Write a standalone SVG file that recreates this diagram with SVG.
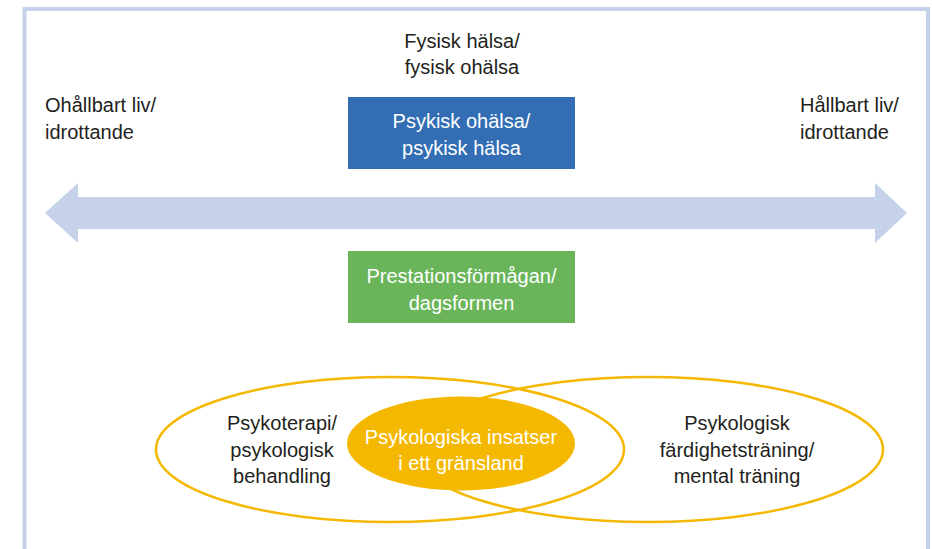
<svg xmlns="http://www.w3.org/2000/svg" width="932" height="549" viewBox="0 0 932 549">
<style>
.t{font-family:"Liberation Sans",Arial,sans-serif;font-size:20px;fill:#231f20;text-anchor:middle}
.w{fill:#ffffff}
.l{text-anchor:start}
.ring{fill:none;stroke:#f5b800;stroke-width:2.5}
</style>
<rect width="932" height="549" fill="#ffffff"/>
<g id="frame">
<path d="M24.5,560 V9 H928 V560" fill="none" stroke="#c5d0ea" stroke-width="4"/>
</g>
<g id="connectors">
<polygon points="45,213 78,183 78,197 875,197 875,183 907,213 875,243 875,229 78,229 78,243" fill="#c5d2ea"/>
</g>
<g id="fysisk">
<text class="t" x="462" y="48">Fysisk hälsa/</text>
<text class="t" x="462" y="74">fysisk ohälsa</text>
</g>
<g id="ohallbart">
<text class="t l" x="45" y="112">Ohållbart liv/</text>
<text class="t l" x="45" y="139">idrottande</text>
</g>
<g id="hallbart">
<text class="t l" x="800" y="112">Hållbart liv/</text>
<text class="t l" x="800" y="139">idrottande</text>
</g>
<g id="psykisk">
<rect x="348" y="97" width="227" height="72" fill="#336eb4"/>
<text class="t w" x="461.5" y="128">Psykisk ohälsa/</text>
<text class="t w" x="461.5" y="155">psykisk hälsa</text>
</g>
<g id="prestation">
<rect x="348" y="251" width="227" height="72" fill="#6ab55a"/>
<text class="t w" x="461.5" y="283">Prestationsförmågan/</text>
<text class="t w" x="461.5" y="310">dagsformen</text>
</g>
<g id="psykoterapi">
<ellipse class="ring" cx="390" cy="449.5" rx="234" ry="72.5"/>
<text class="t" x="282" y="430">Psykoterapi/</text>
<text class="t" x="282" y="457">psykologisk</text>
<text class="t" x="282" y="483">behandling</text>
</g>
<g id="fardighet">
<ellipse class="ring" cx="648" cy="449.5" rx="235" ry="72.5"/>
<text class="t" x="737" y="430">Psykologisk</text>
<text class="t" x="737" y="457">färdighetsträning/</text>
<text class="t" x="737" y="483">mental träning</text>
</g>
<g id="gransland">
<ellipse cx="461" cy="443.5" rx="114" ry="47" fill="#f5b800"/>
<text class="t w" x="461" y="444">Psykologiska insatser</text>
<text class="t w" x="461" y="470">i ett gränsland</text>
</g>
</svg>
